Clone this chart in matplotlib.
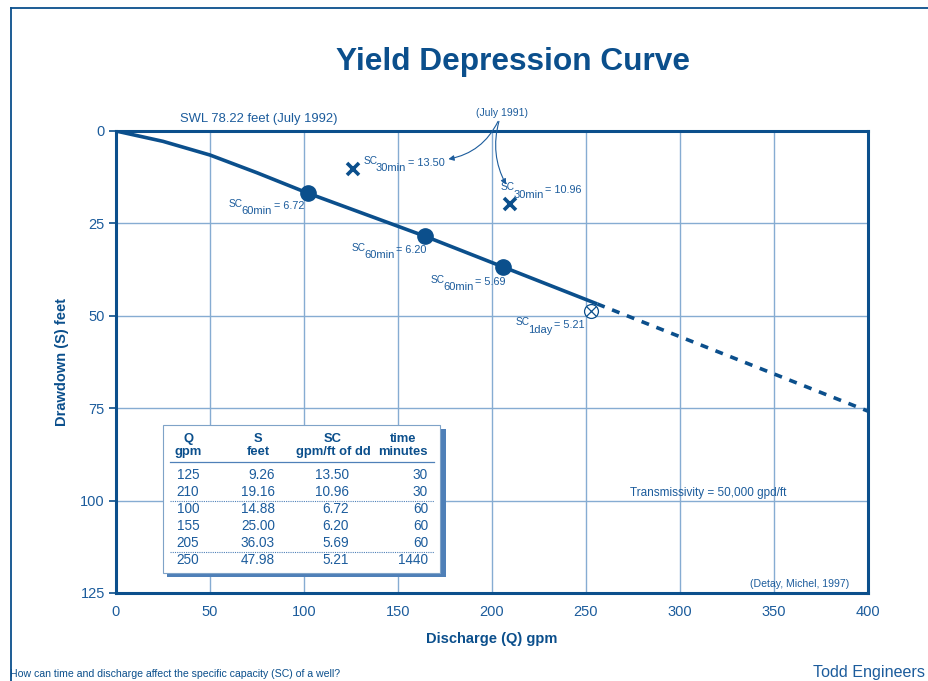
import matplotlib
matplotlib.use("Agg")
import matplotlib.pyplot as plt
from matplotlib.lines import Line2D
from matplotlib.patches import Rectangle
from matplotlib.transforms import ScaledTranslation

plt.rcParams['font.family'] = ['Liberation Sans', 'DejaVu Sans']

DARK = '#0b4f8c'
TXT = '#1c5c9c'
GRID = '#86acd2'

# curve
curve_q = [0, 25, 50, 75, 102, 164, 206, 256]
curve_s = [0, 2.8, 6.5, 11.3, 16.8, 28.4, 36.8, 46.8]
proj_q = [256, 400]
proj_s = [46.8, 75.8]

# 60-minute points (picture positions)
dot_q = [102, 164.4, 205.9]
dot_s = [16.8, 28.4, 36.8]
# 30-minute points (July 1991)
x_q = [126, 209.6]
x_s = [10.3, 19.75]
# 1-day point
day_q = [252.5]
day_s = [48.6]

# specific-capacity labels: (Q, S, subscript, value, alignment)
sc_labels = [
    (100.0, 21.2, "60min", "6.72", 'right'),
    (165.3, 33.1, "60min", "6.20", 'right'),
    (207.3, 41.8, "60min", "5.69", 'right'),
    (131.5, 9.5, "30min", "13.50", 'left'),
    (204.6, 16.7, "30min", "10.96", 'left'),
    (249.5, 53.3, "1day", "5.21", 'right'),
]

# table
tbl_q = ["125", "210", "100", "155", "205", "250"]
tbl_s = ["9.26", "19.16", "14.88", "25.00", "36.03", "47.98"]
tbl_sc = ["13.50", "10.96", "6.72", "6.20", "5.69", "5.21"]
tbl_t = ["30", "30", "60", "60", "60", "1440"]

xticks = [0, 50, 100, 150, 200, 250, 300, 350, 400]
yticks = [0, 25, 50, 75, 100, 125]

W, H = 929, 681
DPI = 100
fig = plt.figure(figsize=(W / DPI, H / DPI), dpi=DPI)
ax = fig.add_axes([116 / W, 1 - 593 / H, (868 - 116) / W, (593 - 131) / H])
ax.set_xlim(0, 400)
ax.set_ylim(125, 0)
ax.set_xticks(xticks)
ax.set_yticks(yticks)
ax.grid(True, color=GRID, lw=1.0)
ax.set_axisbelow(True)
for sp in ax.spines.values():
    sp.set_color(DARK)
    sp.set_linewidth(2.2)
ax.tick_params(axis='x', length=0, pad=9, labelsize=10.5, labelcolor=TXT)
ax.tick_params(axis='y', length=5, width=1.2, color=DARK, pad=3, labelsize=10.5, labelcolor=TXT)
ax.set_xlabel("Discharge (Q) gpm", fontsize=10.5, fontweight='bold', color=DARK, labelpad=9)
ax.set_ylabel("Drawdown (S) feet", fontsize=10.5, fontweight='bold', color=DARK, labelpad=8)

ax.plot(curve_q, curve_s, color=DARK, lw=2.6, solid_capstyle='butt')
ax.plot(proj_q, proj_s, color=DARK, lw=2.6, ls=(0, (2.2, 2.2)))
ax.plot(dot_q, dot_s, 'o', color=DARK, ms=11, zorder=5)
ax.plot(x_q, x_s, 'x', color=DARK, ms=8, mew=2.6, zorder=5)
ax.plot(day_q, day_s, 'o', mfc='white', mec=DARK, ms=10, mew=0.9, zorder=5)
ax.plot(day_q, day_s, 'x', color=DARK, ms=6.5, mew=0.9, zorder=6)

renderer = fig.canvas.get_renderer()


def sc_label(x, y, sub, val, ha):
    # (text, fontsize, vertical shift px, gap after px)
    parts = [("SC", 7.3, 2.6, -1.2), (sub, 8.0, -5.0, 1.5), ("= " + val, 7.8, 0.0, 0.0)]
    items = []
    total = 0.0
    for s, size, dy, gap in parts:
        t = ax.text(x, y, s, fontsize=size, color=TXT, va='baseline', ha='left')
        w = t.get_window_extent(renderer).width
        items.append((t, dy, w, gap))
        total += w + gap
    off = 0.0 if ha == 'left' else -total
    for t, dy, w, gap in items:
        t.set_transform(ax.transData + ScaledTranslation(off / DPI, dy / DPI, fig.dpi_scale_trans))
        off += w + gap


for q, s, sub, val, ha in sc_labels:
    sc_label(q, s, sub, val, ha)

ax.text(34, -3.3, "SWL 78.22 feet (July 1992)", ha='left', va='center', fontsize=9.4, color=TXT, clip_on=False)
ax.text(205.3, -4.8, "(July 1991)", ha='center', va='center', fontsize=7.5, color=TXT, clip_on=False)
ax.annotate("", xy=(176.8, 7.6), xytext=(203.2, -2.6), annotation_clip=False,
            arrowprops=dict(arrowstyle='-|>', color=TXT, lw=0.8, mutation_scale=8,
                            connectionstyle='arc3,rad=-0.25', shrinkA=0, shrinkB=0))
ax.annotate("", xy=(207.5, 14.5), xytext=(203.7, -2.6), annotation_clip=False,
            arrowprops=dict(arrowstyle='-|>', color=TXT, lw=0.8, mutation_scale=8,
                            connectionstyle='arc3,rad=0.2', shrinkA=0, shrinkB=0))

ax.text(273.4, 98.0, "Transmissivity = 50,000 gpd/ft", ha='left', va='center', fontsize=8.5, color=TXT)
ax.text(389.9, 122.6, "(Detay, Michel, 1997)", ha='right', va='center', fontsize=7.6, color=TXT)


# table box (figure pixel coords helper)
def fx(px):
    return px / W


def fy(py):
    return 1 - py / H


fig.patches.append(Rectangle((fx(167), fy(577)), fx(446) - fx(167), fy(429) - fy(577),
                             transform=fig.transFigure, facecolor='#4f80b8', edgecolor='none', zorder=3))
fig.patches.append(Rectangle((fx(163), fy(573)), fx(440) - fx(163), fy(425) - fy(573),
                             transform=fig.transFigure, facecolor='white', edgecolor='#7fa3c8', lw=0.8, zorder=4))

hfs = 9.4
dfs = 9.8
col_cfg = [(188, 'center'), (275, 'right'), (349, 'right'), (428, 'right')]
heads = [("Q", "gpm", 188, 'center'), ("S", "feet", 258, 'center'),
         ("SC", "gpm/ft of dd", 333, 'center'), ("time", "minutes", 403, 'center')]
for h1, h2, px, ha in heads:
    fig.text(fx(px), fy(439), h1, ha=ha, va='center', fontsize=hfs, fontweight='bold', color=DARK, zorder=5)
    fig.text(fx(px), fy(452), h2, ha=ha, va='center', fontsize=hfs, fontweight='bold', color=DARK, zorder=5)
fig.add_artist(Line2D([fx(170), fx(434)], [fy(462), fy(462)], color='#4f80b8', lw=0.9, zorder=5))
fig.add_artist(Line2D([fx(170), fx(434)], [fy(500.5), fy(500.5)], color='#4f80b8', lw=0.8, ls=(0, (1, 1)), zorder=5))
fig.add_artist(Line2D([fx(170), fx(434)], [fy(551.5), fy(551.5)], color='#4f80b8', lw=0.8, ls=(0, (1, 1)), zorder=5))
row_y = [475, 492, 509, 526, 543, 560]
for i, ry in enumerate(row_y):
    vals = [tbl_q[i], tbl_s[i], tbl_sc[i], tbl_t[i]]
    for (px, ha), v in zip(col_cfg, vals):
        fig.text(fx(px), fy(ry), v, ha=ha, va='center', fontsize=dfs, color=TXT, zorder=5)

# title and footer
fig.text(fx(513), fy(62), "Yield Depression Curve", ha='center', va='center', fontsize=22.8,
         fontweight='bold', color=DARK)
fig.text(fx(813), fy(673), "Todd Engineers", ha='left', va='center', fontsize=11.6, color=TXT)
fig.text(fx(10), fy(674), "How can time and discharge affect the specific capacity (SC) of a well?",
         ha='left', va='center', fontsize=7.6, color=DARK)

# outer frame lines
fig.add_artist(Line2D([fx(11), 1.0], [fy(8), fy(8)], color=DARK, lw=1.3))
fig.add_artist(Line2D([fx(11), fx(11)], [fy(8), 0.0], color=DARK, lw=1.3))

fig.savefig("out.png", dpi=DPI)
